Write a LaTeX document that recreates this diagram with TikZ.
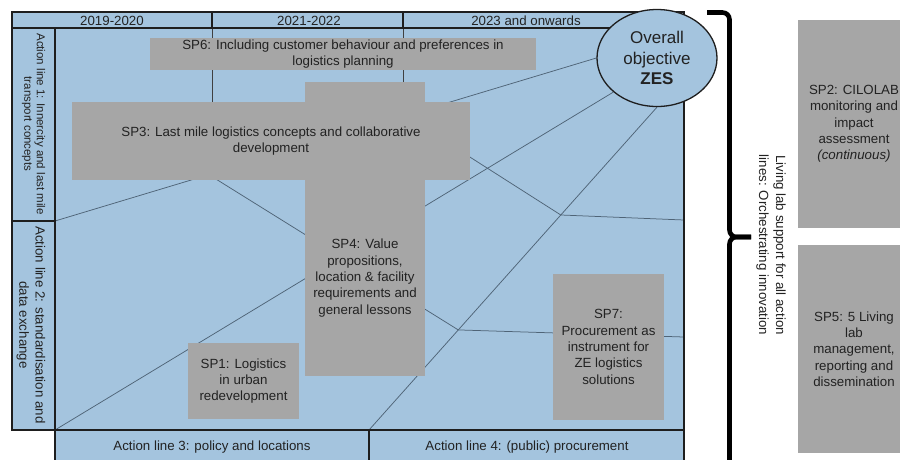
\documentclass[tikz,border=0pt]{standalone}
\usepackage{fontspec}
\setmainfont{Liberation Sans}
\usetikzlibrary{shapes.geometric,calc}
\pgfdeclarelayer{bg}
\pgfsetlayers{bg,main}
\definecolor{bluefill}{HTML}{A4C4DE}
\definecolor{grayfill}{HTML}{A6A6A6}
\definecolor{netline}{HTML}{4F6477}
\definecolor{border}{HTML}{1E1E1E}
\definecolor{txt}{HTML}{222222}
\begin{document}
\begin{tikzpicture}[x=1pt,y=-1pt,
  spbox/.style={fill=grayfill, inner sep=0pt, text=txt, align=center, font=\fontsize{13.3}{16.3}\selectfont},
  lbl/.style={text=txt, inner sep=0pt, align=center, font=\fontsize{13.3}{16.3}\selectfont},
  frame/.style={draw=border, line width=1.2pt},
  net/.style={draw=netline, line width=0.75pt},
  colline/.style={draw=border!85, line width=0.8pt},
  bracestyle/.style={draw=black, line width=4.6pt, rounded corners=7pt},
]
\useasboundingbox (0,0) rectangle (900,459);

% gray sub-project boxes
\node[spbox, minimum width=120pt, minimum height=294pt] (sp4) at (365,229) {};
\node[lbl] (sp4t) at (365,278) {SP4: Value\\propositions,\\location \& facility\\requirements and\\general lessons};
\node[spbox, minimum width=386pt, minimum height=32pt] (sp6) at (343,54) {SP6: Including customer behaviour and preferences in\\logistics planning};
\node[spbox, minimum width=398pt, minimum height=78pt] (sp3) at (271,141) {SP3: Last mile logistics concepts and collaborative\\development};
\node[spbox, minimum width=111pt, minimum height=76pt] (sp1) at (243.5,381) {SP1: Logistics\\in urban\\redevelopment};
\node[spbox, minimum width=111pt, minimum height=146pt] (sp7) at (608.5,347) {SP7:\\Procurement as\\instrument for\\ZE logistics\\solutions};
\node[spbox, minimum width=112pt, minimum height=208pt] (sp2) at (854,124) {SP2: CILOLAB\\monitoring and\\impact\\assessment\\\textit{(continuous)}};
\node[spbox, minimum width=112pt, minimum height=208pt] (sp5) at (854,349) {SP5: 5 Living\\lab\\management,\\reporting and\\dissemination};

% frames
\draw[frame] (12,12) rectangle (684,28);
\draw[frame] (212,12) -- (212,28);
\draw[frame] (403,12) -- (403,28);
\draw[frame] (12,28) rectangle (55,430);
\draw[frame] (12,221) -- (55,221);
\draw[frame] (55,28) rectangle (684,430);
\draw[frame] (55,430) -- (55,462);
\draw[frame] (684,430) -- (684,462);
\draw[frame] (369,430) -- (369,462);

% header texts
\node[lbl] (h1) at (112,20.5) {2019-2020};
\node[lbl] (h2) at (309,20.5) {2021-2022};
\node[lbl] (h3) at (526,20.5) {2023 and onwards};

% action line labels
\node[lbl, rotate=-90, font=\fontsize{11.5}{12.5}\selectfont] (al1) at (33.5,124) {Action line 1: Innercity and last mile\\transport concepts};
\node[lbl, rotate=-90] (al2) at (31,325) {Action line 2: standardisation and\\data exchange};
\node[lbl] (al3) at (212,447) {Action line 3: policy and locations};
\node[lbl] (al4) at (527,447) {Action line 4: (public) procurement};

% overall objective
\node[ellipse, draw=border, line width=1.3pt, fill=bluefill, minimum width=120pt, minimum height=97pt, inner sep=0pt, text=txt, align=center, font=\fontsize{17}{20.5}\selectfont] (zes) at (657,58) {Overall\\objective\\\textbf{ZES}};

% brace and living lab label
\draw[bracestyle] (707,12.5) -- (729.5,12.5) -- (729.5,237) -- (751,237);
\draw[bracestyle] (751,237) -- (729.5,237) -- (729.5,480);
\node[lbl, rotate=-90, font=\fontsize{13.3}{17}\selectfont] (ll) at (771,245) {Living lab support for all action\\lines: Orchestrating innovation};

% background layer: fills and network lines
\begin{pgfonlayer}{bg}
\fill[bluefill] (12,12) rectangle (684,430);
\fill[bluefill] (55,430) rectangle (684,462);
\draw[colline] (212,28) -- (212,110);
\draw[colline] (403,28) -- (403,110);
\coordinate (a12) at (55,221);
\coordinate (corner) at (55,430);
\coordinate (div34) at (369,430);
\coordinate (J) at ($(zes.south)!0.69!(div34)$);
\coordinate (K) at ($(zes.south)!0.334!(div34)$);
\coordinate (dstart) at (150,138);
\coordinate (estart) at (440,138);
\coordinate (rD) at (684,337);
\coordinate (rE) at (684,220);
\draw[net] (a12) -- (zes.west);
\draw[net] (corner) -- (zes.218);
\draw[net] (zes.south) -- (div34);
\draw[net] (dstart) -- (J) -- (rD);
\draw[net] (estart) -- (K) -- (rE);
\end{pgfonlayer}
\end{tikzpicture}
\end{document}
